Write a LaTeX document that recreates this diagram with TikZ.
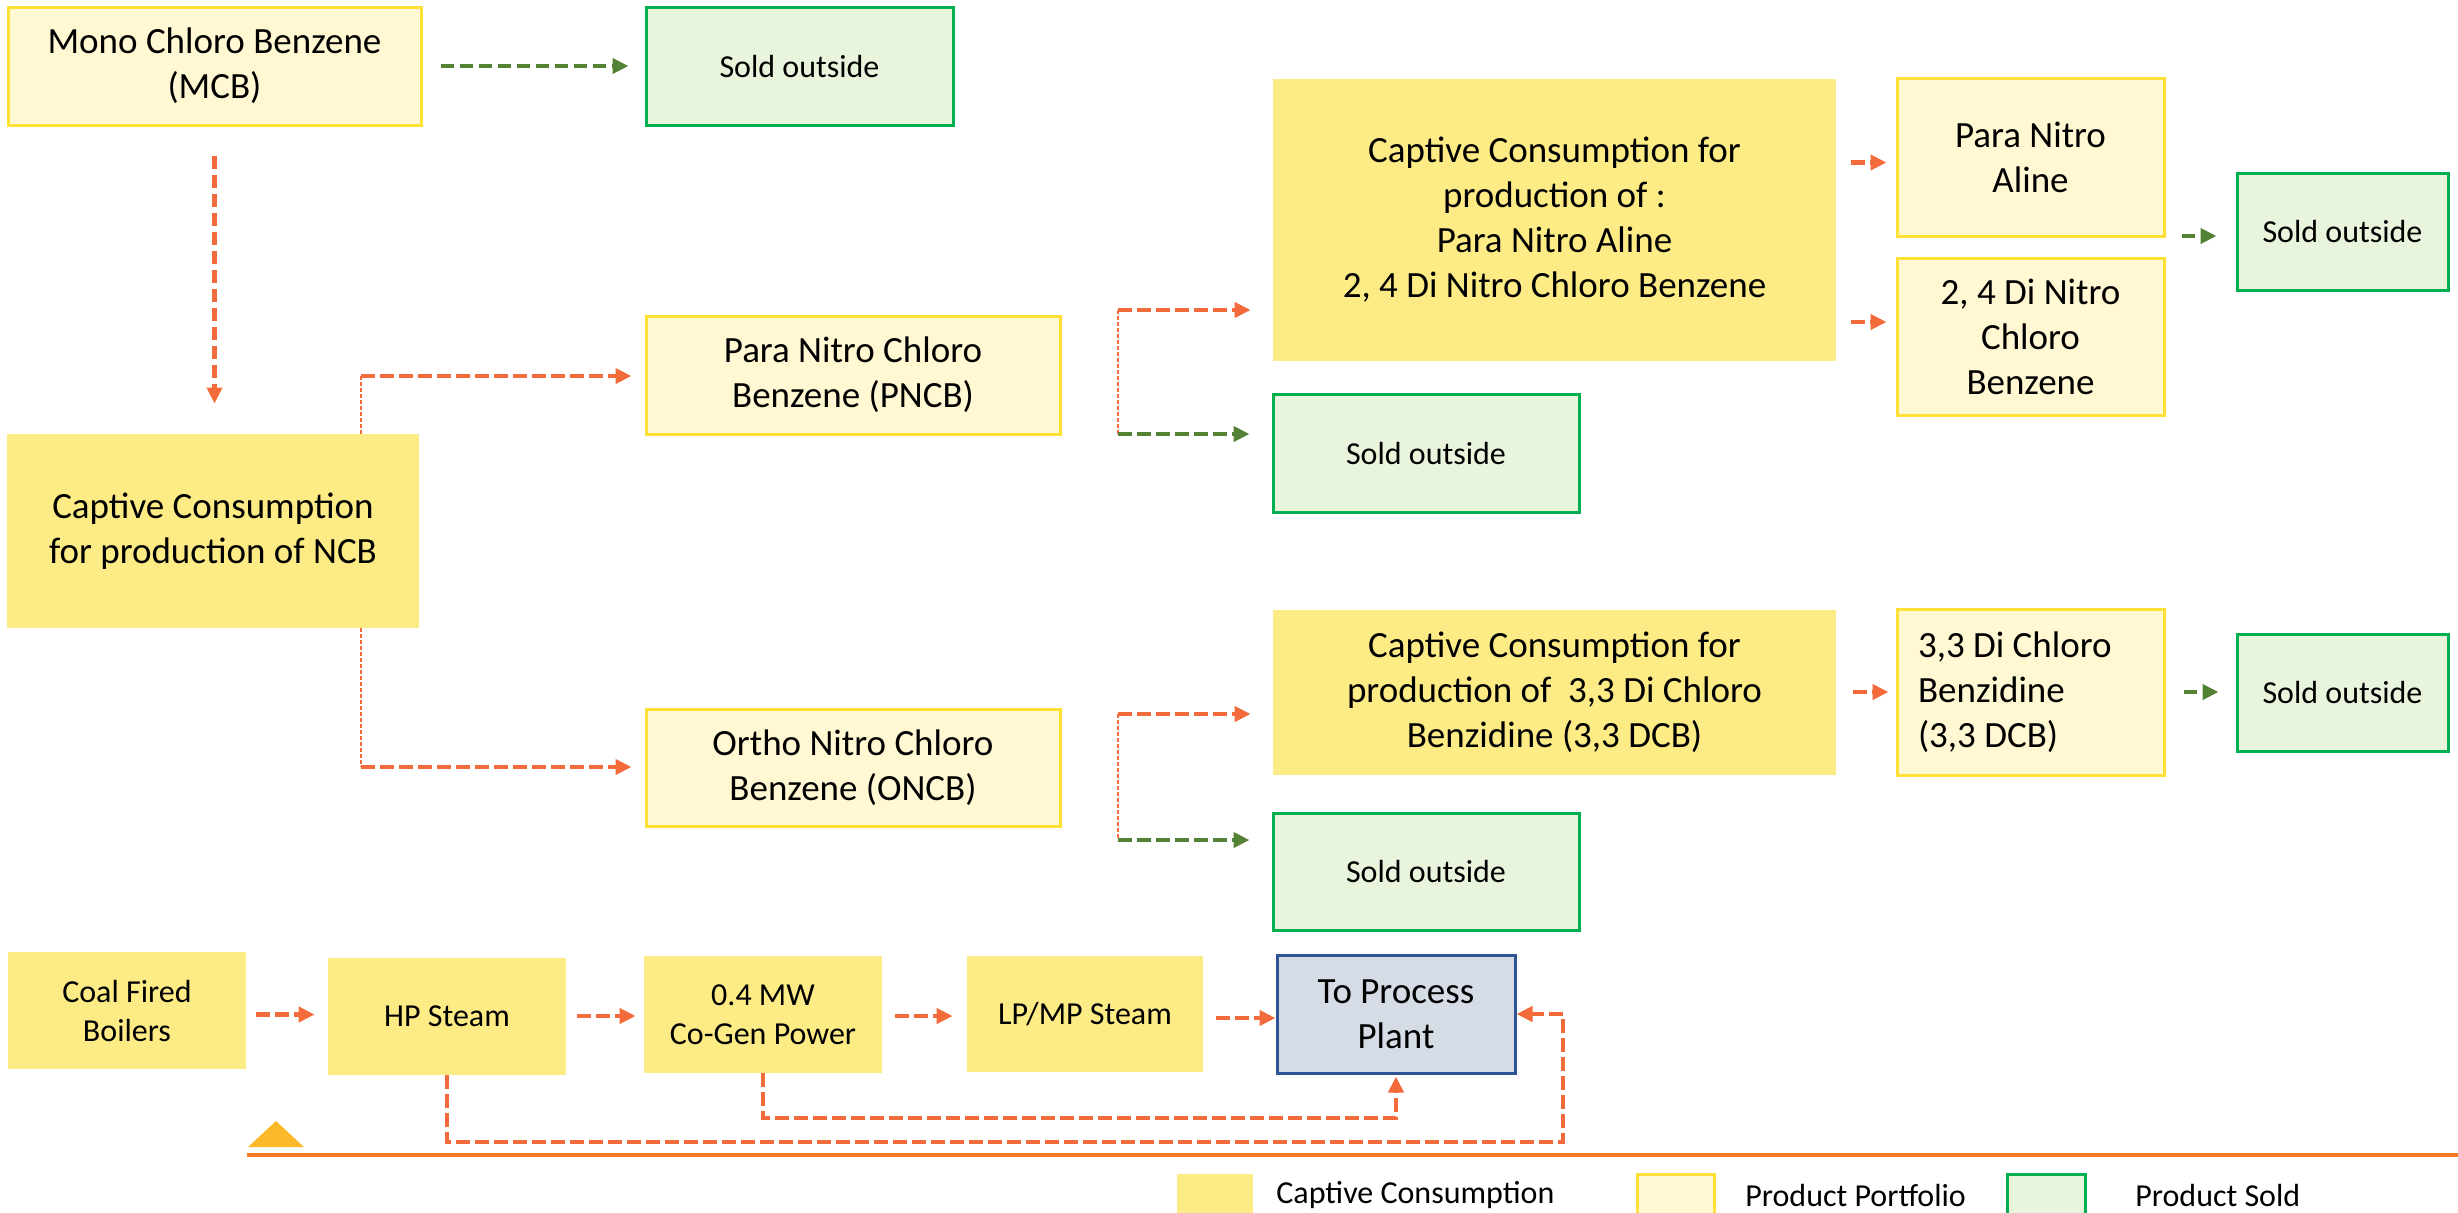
\documentclass[tikz,border=0pt]{standalone}
\usepackage{fontspec}
\setmainfont{Carlito}
\usetikzlibrary{arrows.meta}
\definecolor{capfill}{HTML}{FDEB85}
\definecolor{portfill}{HTML}{FFF8D3}
\definecolor{portdraw}{HTML}{FFE135}
\definecolor{soldfill}{HTML}{E8F4DB}
\definecolor{solddraw}{HTML}{00B050}
\definecolor{procfill}{HTML}{D6DCE6}
\definecolor{procdraw}{HTML}{2F5597}
\definecolor{orarrow}{HTML}{F36B3A}
\definecolor{grarrow}{HTML}{548235}
\definecolor{rule}{HTML}{F77B25}
\definecolor{tri}{HTML}{FBB829}
\tikzset{
 box/.style={rectangle, inner sep=0pt, align=center, font=\fontsize{18.5}{22.5}\selectfont},
 smalltext/.style={font=\fontsize{16}{19.5}\selectfont},
 captive/.style={box, fill=capfill},
 portfolio/.style={box, fill=portfill, draw=portdraw, line width=1.5pt},
 sold/.style={box, smalltext, fill=soldfill, draw=solddraw, line width=1.5pt},
 process/.style={box, fill=procfill, draw=procdraw, line width=1.5pt},
 flow/.style={draw=orarrow, line width=2.3pt, dash pattern=on 6.75pt off 2.75pt, -{Triangle[length=8pt,width=7.5pt]}},
 gflow/.style={flow, draw=grarrow},
 thinline/.style={draw=orarrow, line width=0.6pt, dash pattern=on 2pt off 1pt},
 legtext/.style={anchor=west, inner sep=0pt, smalltext},
}
\newcommand{\mybox}[7]{\node[#6, minimum width={(#4-#2)*0.5pt}, minimum height={(#5-#3)*0.5pt}] (#1) at ({(#2+#4)/2},{(#3+#5)/2}) {#7};}
\begin{document}
\begin{tikzpicture}[x=0.5pt, y=-0.5pt]
\useasboundingbox (0,0) rectangle (2458,1212);
\clip (0,0) rectangle (2458,1212);
% fork points
\coordinate (f1) at (361,376);
\coordinate (f1b) at (361,767);
\coordinate (f2) at (1118,310);
\coordinate (f2b) at (1118,434);
\coordinate (f3) at (1118,714);
\coordinate (f3b) at (1118,840);
% boxes
\mybox{mcb}{8}{7}{421}{125}{portfolio}{Mono Chloro Benzene\\(MCB)}
\mybox{sold1}{646}{7}{953}{125}{sold}{Sold outside}
\mybox{ncb}{7}{434}{419}{628}{captive}{Captive Consumption\\for production of NCB}
\mybox{pncb}{646}{316}{1060}{434}{portfolio}{Para Nitro Chloro\\Benzene (PNCB)}
\mybox{oncb}{646}{709}{1060}{826}{portfolio}{Ortho Nitro Chloro\\Benzene (ONCB)}
\mybox{cap1}{1273}{79}{1836}{361}{captive}{Captive Consumption for\\production of :\\Para Nitro Aline\\2, 4 Di Nitro Chloro Benzene}
\mybox{sold2}{1273}{394}{1579}{512}{sold}{Sold outside}
\mybox{pna}{1897}{78}{2164}{236}{portfolio}{Para Nitro\\Aline}
\mybox{dnc}{1897}{258}{2164}{415}{portfolio}{2, 4 Di Nitro\\Chloro\\Benzene}
\mybox{sold3}{2237}{173}{2448}{290}{sold}{Sold outside}
\mybox{cap2}{1273}{610}{1836}{775}{captive}{Captive Consumption for\\production of\ \ 3,3 Di Chloro\\Benzidine (3,3 DCB)}
\mybox{dcb}{1897}{609}{2164}{775}{portfolio, align=flush left, text width=112.5pt}{3,3 Di Chloro\\Benzidine\\(3,3 DCB)}
\mybox{sold5}{2237}{634}{2448}{751}{sold}{Sold outside}
\mybox{sold4}{1273}{813}{1579}{930}{sold}{Sold outside}
\mybox{coal}{8}{952}{246}{1069}{captive, smalltext}{Coal Fired\\Boilers}
\mybox{hp}{328}{958}{566}{1075}{captive, smalltext}{HP Steam}
\mybox{cogen}{644}{956}{882}{1073}{captive, smalltext}{0.4 MW\\Co-Gen Power}
\mybox{lpmp}{967}{956}{1203}{1072}{captive, smalltext}{LP/MP Steam}
\mybox{tpp}{1277}{955}{1515}{1073}{process}{To Process\\Plant}
% connectors: top section
\draw[gflow] ([xshift=9pt]mcb.east) -- ([xshift=-8pt]sold1.west);
\draw[flow] ([yshift=-14.5pt]mcb.south) -- ++(0,248);
\draw[thinline] (f1) -- (f1 |- ncb.north);
\draw[thinline] (f1 |- ncb.south) -- (f1b);
\draw[flow, shorten >=6.5pt] (f1) -- (f1 -| pncb.west);
\draw[flow, shorten >=6.5pt] (f1b) -- (f1b -| oncb.west);
\draw[thinline] (f2) -- (f2b);
\draw[flow, shorten >=11pt] (f2) -- (f2 -| cap1.west);
\draw[gflow, shorten >=11pt] (f2b) -- (f2b -| sold2.west);
\draw[thinline] (f3) -- (f3b);
\draw[flow, shorten >=11pt] (f3) -- (f3 -| cap2.west);
\draw[gflow, shorten >=11pt] (f3b) -- (f3b -| sold4.west);
\draw[flow] ([xshift=7.5pt]cap1.east |- 0,162.5) -- ([xshift=-4.5pt]pna.west |- 0,162.5);
\draw[flow] ([xshift=7.5pt]cap1.east |- 0,322) -- ([xshift=-4.5pt]dnc.west |- 0,322);
\draw[gflow] ([xshift=8pt]pna.east |- 0,236) -- ([xshift=-9.5pt]sold3.west |- 0,236);
\draw[flow] ([xshift=8.5pt]cap2.east |- 0,692) -- ([xshift=-3.5pt]dcb.west |- 0,692);
\draw[gflow] ([xshift=9pt]dcb.east |- 0,692) -- ([xshift=-8.5pt]sold5.west |- 0,692);
% bottom row
\draw[flow] ([xshift=5pt]coal.east |- 0,1014.5) -- ([xshift=-6.5pt]hp.west |- 0,1014.5);
\draw[flow] ([xshift=5.5pt]hp.east |- 0,1016) -- ([xshift=-4pt]cogen.west |- 0,1016);
\draw[flow] ([xshift=6.5pt]cogen.east |- 0,1016) -- ([xshift=-7pt]lpmp.west |- 0,1016);
\draw[flow] ([xshift=6.5pt]lpmp.east |- 0,1018) -- (tpp.west |- 0,1018);
\draw[flow] (hp.south) -- (hp.south |- 0,1142) -| (1563,1014) -- (tpp.east |- 0,1014);
\draw[flow, shorten >=1pt] (cogen.south) -- (cogen.south |- 0,1118) -| (tpp.south);
% rule and triangle
\fill[tri] (248,1147) -- (304,1147) -- (276,1121) -- cycle;
\draw[rule, line width=2.3pt] (247,1155) -- (2458,1155);
% legend
\mybox{lg1}{1177}{1174}{1253}{1230}{captive}{}
\mybox{lg2}{1637}{1174}{1714}{1230}{portfolio}{}
\mybox{lg3}{2007}{1174}{2085}{1230}{sold}{}
\node[legtext] (lt1) at (1276,1195) {Captive Consumption};
\node[legtext] (lt2) at (1745,1195) {Product Portfolio};
\node[legtext] (lt3) at (2135,1195) {Product Sold};
\end{tikzpicture}
\end{document}
